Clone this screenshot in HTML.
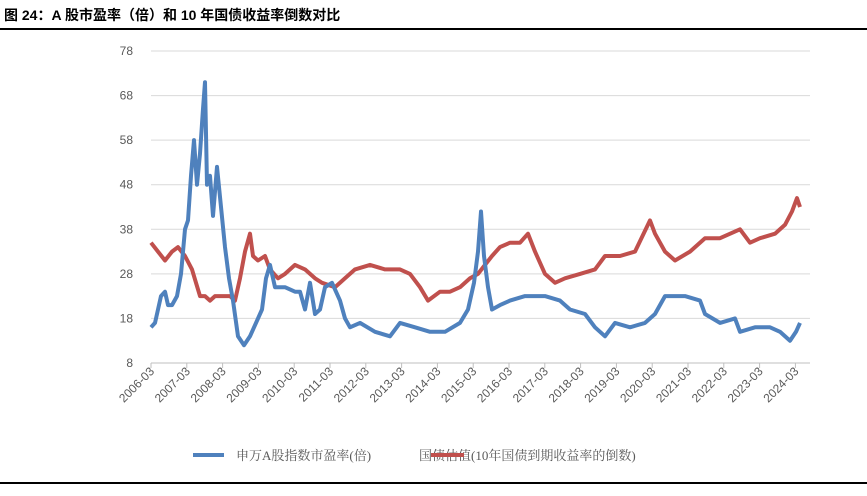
<!DOCTYPE html>
<html><head><meta charset="utf-8"><style>
body{margin:0;background:#fff;width:867px;height:491px;overflow:hidden;font-family:"Liberation Sans","Noto Sans CJK SC",sans-serif}
</style></head><body>
<svg id="c" width="867" height="491" xmlns="http://www.w3.org/2000/svg">
<text x="4" y="20" font-size="14" font-weight="bold" fill="#000" font-family="Liberation Sans,Noto Sans CJK SC,sans-serif">图 24：A 股市盈率（倍）和 10 年国债收益率倒数对比</text>
<rect x="0" y="28" width="867" height="2" fill="#000"/>
<rect x="0" y="482" width="867" height="2" fill="#000"/>
<g id="grid"></g><g id="xt"></g><g id="series"></g>
<g>
<line x1="193" y1="455" x2="224" y2="455" stroke="#4f81bd" stroke-width="4"/>
<text x="236" y="460" font-size="13" fill="#595959" font-family="Liberation Serif,Noto Serif CJK SC,serif">申万A股指数市盈率(倍)</text>
<text x="419" y="460" font-size="13" fill="#595959" font-family="Liberation Serif,Noto Serif CJK SC,serif">国债估值(10年国债到期收益率的倒数)</text>
<line x1="431" y1="455" x2="464" y2="455" stroke="#c0504d" stroke-width="4"/>
</g>
</svg>
<script>
const yTicks=[8,18,28,38,48,58,68,78];
const xYears=[2006,2007,2008,2009,2010,2011,2012,2013,2014,2015,2016,2017,2018,2019,2020,2021,2022,2023,2024];
const peX=[151,155,158,161,165,168,172,177,181,185,188,191,194,197,200,203,205,207,210,213,217,221,225,229,233,238,244,250,256,262,266,270,275,285,295,300,305,310,315,320,325,332,340,345,350,360,375,390,400,415,430,445,460,468,474,478,481,484,488,492,500,510,525,545,560,570,585,595,605,615,630,645,655,665,685,700,705,720,735,740,755,770,780,790,796,800];
const peVals=[16,17,20,23,24,21,21,23,28,38,40,50,58,48,55,65,71,48,50,41,52,43,34,27,22,14,12,14,17,20,27,30,25,25,24,24,20,26,19,20,25,26,22,18,16,17,15,14,17,16,15,15,17,20,26,33,42,32,25,20,21,22,23,23,22,20,19,16,14,17,16,17,19,23,23,22,19,17,18,15,16,16,15,13,15,17];
const bondX=[151,158,165,172,178,185,192,196,200,205,210,215,222,230,235,240,245,250,253,258,265,270,278,285,295,305,315,322,335,345,355,370,385,400,410,420,428,440,450,460,470,478,485,492,500,510,520,528,535,545,555,565,580,595,605,620,635,650,655,665,675,690,705,720,740,750,760,775,785,792,797,800];
const bondVals=[35,33,31,33,34,32,29,26,23,23,22,23,23,23,22,27,33,37,32,31,32,29,27,28,30,29,27,26,25,27,29,30,29,29,28,25,22,24,24,25,27,28,30,32,34,35,35,37,33,28,26,27,28,29,32,32,33,40,37,33,31,33,36,36,38,35,36,37,39,42,45,43];
const NS='http://www.w3.org/2000/svg';
const x0=151,pxYear=35.8;
function yS(v){return 363-(v-8)*312/70;}
function yearToX(yr){return x0+(yr-2006)*pxYear;}
// x data given as year offset from pixel reading -> convert to decimal years
function toYear(px){return 2006+(px-x0)/pxYear;}
const grid=document.getElementById('grid');
yTicks.forEach(v=>{
 const l=document.createElementNS(NS,'line');
 
 
 l.setAttribute('x1',151);l.setAttribute('x2',810);l.setAttribute('y1',yS(v));l.setAttribute('y2',yS(v));
 l.setAttribute('stroke',v===8?'#bfbfbf':'#d9d9d9');l.setAttribute('stroke-width',1);
 grid.appendChild(l);
 const t=document.createElementNS(NS,'text');
 
 
 t.setAttribute('x',133);t.setAttribute('y',yS(v)+4);t.setAttribute('text-anchor','end');
 t.setAttribute('font-size','12');t.setAttribute('fill','#595959');t.textContent=v;
 grid.appendChild(t);
});
const xt=document.getElementById('xt');
xYears.forEach(yr=>{
 const x=yearToX(yr);
 const tk=document.createElementNS(NS,'line');
 
 
 tk.setAttribute('x1',x);tk.setAttribute('x2',x);tk.setAttribute('y1',363);tk.setAttribute('y2',368);tk.setAttribute('stroke','#bfbfbf');
 xt.appendChild(tk);
 const t=document.createElementNS(NS,'text');
 
 
 t.setAttribute('transform','translate('+(x+4)+',372) rotate(-45)');
 t.setAttribute('text-anchor','end');t.setAttribute('font-size','12');t.setAttribute('fill','#595959');
 t.textContent=yr+'-03';
 xt.appendChild(t);
});
function draw(xs,vs,color,name){
 const d=xs.map((px,i)=>(i?'L':'M')+yearToX(toYear(px)).toFixed(1)+','+yS(vs[i]).toFixed(1)).join('');
 const p=document.createElementNS(NS,'path');
 
 
 p.setAttribute('d',d);p.setAttribute('fill','none');p.setAttribute('stroke',color);
 p.setAttribute('stroke-width',4);p.setAttribute('stroke-linejoin','round');
 document.getElementById('series').appendChild(p);
}
draw(bondX,bondVals,'#c0504d','bond-valuation-line');
draw(peX,peVals,'#4f81bd','pe-ratio-line');
</script>
</body></html>
